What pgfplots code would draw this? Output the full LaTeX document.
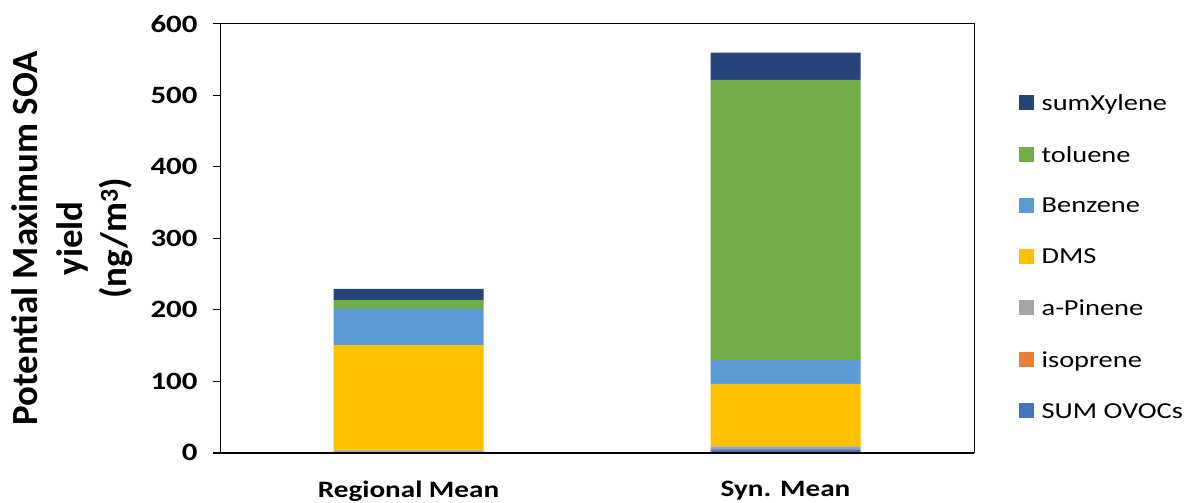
\documentclass[border=0pt]{standalone}
\usepackage{pgfplots}
\pgfplotsset{compat=1.18}
\usepackage{fontspec}
\setmainfont{Carlito}
\newfontfamily\wide{Carlito}[FakeStretch=1.24]
\newcommand{\legtxt}[1]{{\fontsize{23}{28}\selectfont\wide #1}}
\definecolor{cOV}{HTML}{4472C4}
\definecolor{cIso}{HTML}{ED7D31}
\definecolor{cPin}{HTML}{A5A5A5}
\definecolor{cDMS}{HTML}{FFC000}
\definecolor{cBen}{HTML}{5B9BD5}
\definecolor{cTol}{HTML}{70AD47}
\definecolor{cXyl}{HTML}{264478}
\begin{document}
\begin{tikzpicture}
\path[use as bounding box] (0,0) rectangle (1190bp,503bp);
\begin{axis}[
  at={(220bp,50.3bp)}, anchor=south west,
  scale only axis, width=754bp, height=429bp,
  ybar stacked, bar width=150bp,
  xmin=-0.5, xmax=1.5, ymin=0, ymax=600,
  xtick={0,1}, xticklabels={Regional Mean,Syn. Mean},
  major x tick style={draw=none},
  xticklabel style={font=\fontsize{23.6}{28}\selectfont\wide\bfseries, yshift=-18bp},
  ytick={0,100,...,600}, ytick pos=left, tick align=outside,
  major tick length=7bp,
  major y tick style={black, line width=1bp},
  /pgf/number format/assume math mode=true,
  yticklabel style={font=\fontsize{25}{30}\selectfont\wide\bfseries, xshift=-12bp},
  axis line style={black, line width=1bp},
  ylabel={Potential Maximum SOA\\yield\\(ng/m\textsuperscript{3})},
  ylabel style={at={(axis description cs:-0.196,0.5)}, anchor=center,
    align=center, font=\fontsize{37}{45}\selectfont\bfseries},
  legend style={at={(1.055,0.456)}, anchor=west, draw=none, fill=none,
    row sep=30.5bp,
    /tikz/every odd column/.append style={column sep=6bp}},
  legend cell align=left,
  reverse legend,
  legend image code/.code={\fill[#1] (0bp,-7bp) rectangle (15bp,8bp);},
]
\addplot[fill=cOV, draw=none] coordinates {(0,1.5) (1,4.5)};
\addlegendentry{\legtxt{SUM OVOCs}}
\addplot[fill=cIso, draw=none] coordinates {(0,0.3) (1,0.8)};
\addlegendentry{\legtxt{isoprene}}
\addplot[fill=cPin, draw=none] coordinates {(0,1.5) (1,3.5)};
\addlegendentry{\legtxt{a-Pinene}}
\addplot[fill=cDMS, draw=none] coordinates {(0,147) (1,87.4)};
\addlegendentry{\legtxt{DMS}}
\addplot[fill=cBen, draw=none] coordinates {(0,50.4) (1,33.2)};
\addlegendentry{\legtxt{Benzene}}
\addplot[fill=cTol, draw=none] coordinates {(0,12.6) (1,392.2)};
\addlegendentry{\legtxt{toluene}}
\addplot[fill=cXyl, draw=none] coordinates {(0,15.9) (1,37.8)};
\addlegendentry{\legtxt{sumXylene}}
\end{axis}
\draw[black, line width=2bp] (213bp,50.3bp) -- (974bp,50.3bp);
\end{tikzpicture}
\end{document}
